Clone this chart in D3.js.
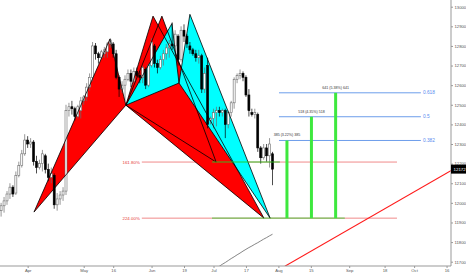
<!DOCTYPE html>
<html>
<head>
<meta charset="utf-8">
<script src="https://cdn.jsdelivr.net/npm/d3@7"></script>
<style>
  body { margin: 0; background: #fff; }
  svg { display: block; font-family: "Liberation Sans", Arial, sans-serif; }
</style>
</head>
<body>
<div id="chart"></div>
<script>
// daily candles, bar index 0 = first visible bar (late March)
const opens  = [11960,11985,12010,12045,12080,12050,12140,12190,12250,12320,12300,12310,12210,12180,12200,12240,12170,12130,12140,11990,12020,12040,12060,12470,12490,12480,12440,12470,12520,12540,12590,12640,12800,12760,12740,12760,12770,12810,12810,12760,12640,12580,12600,12630,12660,12620,12670,12650,12640,12680,12600,12700,12800,12710,12690,12730,12760,12790,12810,12800,12850,12730,12880,12850,12800,12780,12760,12740,12750,12580,12700,12420,12430,12460,12470,12460,12470,12400,12460,12510,12630,12650,12660,12640,12550,12460,12450,12450,12280,12230,12280,12240,12250];
const highs  = [12000,12030,12060,12100,12090,12160,12210,12270,12350,12340,12330,12320,12240,12220,12270,12250,12200,12180,12150,12050,12060,12080,12500,12510,12520,12490,12500,12540,12550,12610,12660,12820,12815,12770,12780,12795,12820,12840,12820,12780,12650,12620,12650,12680,12680,12690,12690,12670,12700,12690,12710,12840,12810,12730,12750,12780,12810,12830,12920,12880,12860,12900,12910,12860,12820,12790,12780,12780,12760,12690,12740,12440,12480,12490,12490,12480,12480,12470,12520,12640,12660,12680,12670,12650,12580,12480,12480,12460,12290,12300,12300,12330,12260];
const lows   = [11930,11950,11990,12020,12030,12040,12130,12180,12240,12280,12280,12190,12150,12170,12160,12150,12110,12100,11970,11960,11990,12010,12040,12440,12450,12420,12430,12430,12500,12520,12570,12620,12730,12710,12730,12740,12740,12790,12740,12630,12540,12560,12520,12620,12590,12610,12640,12610,12610,12580,12590,12690,12690,12660,12680,12700,12730,12740,12780,12760,12700,12720,12820,12790,12760,12750,12720,12710,12560,12560,12380,12400,12380,12390,12440,12440,12330,12380,12440,12480,12610,12630,12620,12540,12440,12440,12430,12260,12200,12220,12210,12180,12090];
const closes = [11985,12010,12045,12080,12045,12140,12190,12250,12320,12300,12310,12210,12180,12200,12250,12170,12130,12150,11990,12020,12040,12060,12470,12490,12480,12440,12490,12520,12540,12590,12640,12800,12760,12740,12770,12780,12810,12830,12760,12640,12580,12600,12630,12660,12620,12670,12650,12640,12690,12600,12700,12820,12710,12690,12730,12760,12790,12810,12800,12860,12730,12880,12850,12810,12780,12760,12740,12750,12580,12660,12400,12430,12460,12470,12460,12470,12400,12460,12510,12630,12650,12660,12640,12550,12470,12450,12460,12280,12230,12280,12240,12300,12172];

// grey moving average, bars 72..92
const maStart = 72;
const maValues = [11657,11667,11677,11687,11696,11706,11716,11725,11735,11744,11754,11763,11772,11780,11789,11797,11806,11815,11823,11832,11840];

// axis ticks
const yTicks = [11700,11800,11900,12000,12100,12200,12300,12400,12500,12600,12700,12800,12900,13000];
const xTickIdx = [9,28,38,51,62,72,83,94,105,118,130,140,151];
const xTickLabels = ["Apr","May","16","Jun","19","Jul","17","Aug","15","Sep","18","Oct","16"];
const lastPrice = 12172;

// harmonic patterns [bar index, price]
const redXAB  = [[11.15,11953],[36.9,12835],[42.3,12498]];
const redBCD  = [[42.3,12498],[51.5,12952],[89.1,11922]];
const red2BCD = [[42.3,12498],[54.5,12952],[72.9,12208]];
const cyanXAB = [[42.3,12498],[57.9,12914],[60.3,12611]];
const cyanBCD = [[60.3,12611],[64.0,12961],[91.2,11922]];

// projection levels
const extLevels = [12208,11922];
const extLabels = ["161.80%","224.00%"];
const extFrom = 47.7, extTo = 134.2, greenFrom = 71.5;
const greenTo = [94.5,116.5];

// fib retracement
const fibValues = [12561,12439,12318];
const fibLabels = ["0.618","0.5","0.382"];
const fibFrom = 94.2, fibTo = 142.3;

// price ranges
const rangeIdx = [96.9,105.2,113.4];
const rangeTop = [12318,12439,12561];
const rangeBase = 11922;
const rangeLabels = ["385 (3.22%) 385","518 (4.35%) 518","641 (5.38%) 641"];

// red trend line
const trendPts = [[96.2,11677],[152.6,12165]];

const W = 466, H = 275, plotR = 451, plotB = 266;

const svg = d3.select("#chart").append("svg")
    .attr("width", W).attr("height", H);
svg.append("rect").attr("width", W).attr("height", H).attr("fill", "#fff");

const x = d3.scaleLinear().domain([0, 100]).range([1.1, 296.1]);
const y = d3.scaleLinear().domain([11700, 13000]).range([261.7, 6.7]);

svg.append("clipPath").attr("id", "plot")
  .append("rect").attr("width", plotR).attr("height", plotB);
const g = svg.append("g").attr("clip-path", "url(#plot)");

// pink projection lines
g.selectAll(".ext").data(extLevels).enter().append("line")
    .attr("x1", x(extFrom)).attr("x2", x(extTo))
    .attr("y1", d => y(d)).attr("y2", d => y(d))
    .attr("stroke", "#f08a8a").attr("stroke-width", 1);
g.selectAll(".extlbl").data(extLevels).enter().append("text")
    .attr("x", x(extFrom) - 2).attr("y", d => y(d) + 1.5)
    .attr("text-anchor", "end").attr("font-size", 4.4)
    .attr("fill", "#e53935")
    .text((d, i) => extLabels[i]);

// pattern fills
const pl = d3.line().x(d => x(d[0])).y(d => y(d[1]));
const shapes = [
  [redXAB, "#ff0000"], [redBCD, "#ff0000"], [red2BCD, "#ff0000"],
  [cyanXAB, "#00ffff"], [cyanBCD, "#00ffff"]
];
g.selectAll(".tri").data(shapes).enter().append("path")
    .attr("d", d => pl(d[0]) + "Z")
    .attr("fill", d => d[1]);

// candles
const idx = d3.range(closes.length);
const bw = 2;
g.selectAll(".wick").data(idx).enter().append("line")
    .attr("x1", i => x(i)).attr("x2", i => x(i))
    .attr("y1", i => y(highs[i])).attr("y2", i => y(lows[i]))
    .attr("stroke", i => closes[i] >= opens[i] ? "#6b6b6b" : "#000")
    .attr("stroke-width", 0.7);
g.selectAll(".body").data(idx).enter().append("rect")
    .attr("x", i => x(i) - bw / 2)
    .attr("width", bw)
    .attr("y", i => y(Math.max(opens[i], closes[i])))
    .attr("height", i => Math.max(0.8, Math.abs(y(opens[i]) - y(closes[i]))))
    .attr("fill", i => closes[i] >= opens[i] ? "#fff" : "#000")
    .attr("stroke", i => closes[i] >= opens[i] ? "#6b6b6b" : "#000")
    .attr("stroke-width", 0.6);

// pattern edges
g.selectAll(".edge").data(shapes).enter().append("path")
    .attr("d", d => pl(d[0]) + "Z")
    .attr("fill", "none").attr("stroke", "#000").attr("stroke-width", 0.8);

// green level overlays
g.selectAll(".glev").data(extLevels).enter().append("line")
    .attr("x1", x(greenFrom)).attr("x2", (d, i) => x(greenTo[i]))
    .attr("y1", d => y(d)).attr("y2", d => y(d))
    .attr("stroke", "#22cc22").attr("stroke-opacity", 0.6).attr("stroke-width", 1.4);

// moving average
g.append("path")
    .datum(maValues)
    .attr("d", d3.line().x((d, i) => x(maStart + i)).y(d => y(d)))
    .attr("fill", "none").attr("stroke", "#666").attr("stroke-width", 0.8);

// trend line
g.append("path").datum(trendPts)
    .attr("d", pl)
    .attr("stroke", "#ff1a1a").attr("stroke-width", 1.1).attr("fill", "none");

// fib retracement
g.selectAll(".fib").data(fibValues).enter().append("line")
    .attr("x1", x(fibFrom)).attr("x2", x(fibTo))
    .attr("y1", d => y(d)).attr("y2", d => y(d))
    .attr("stroke", "#6d9eeb").attr("stroke-width", 1);
g.selectAll(".fiblbl").data(fibValues).enter().append("text")
    .attr("x", x(fibTo) + 2).attr("y", d => y(d) + 1.6)
    .attr("font-size", 4.8).attr("fill", "#5b8def")
    .text((d, i) => fibLabels[i]);

// price ranges
g.selectAll(".rng").data(rangeIdx).enter().append("line")
    .attr("x1", d => x(d)).attr("x2", d => x(d))
    .attr("y1", y(rangeBase)).attr("y2", (d, i) => y(rangeTop[i]))
    .attr("stroke", "#3ee83e").attr("stroke-width", 3);
g.selectAll(".rnglbl").data(rangeIdx).enter().append("text")
    .attr("x", d => x(d)).attr("y", (d, i) => y(rangeTop[i]) - 4)
    .attr("text-anchor", "middle").attr("font-size", 3.6).attr("fill", "#333")
    .text((d, i) => rangeLabels[i]);

// axes
const yAxis = svg.append("g")
    .attr("transform", `translate(${plotR},0)`)
    .call(d3.axisRight(y).tickValues(yTicks).tickSize(2).tickPadding(1.5).tickFormat(d3.format("d")));
const xAxis = svg.append("g")
    .attr("transform", `translate(0,${plotB})`)
    .call(d3.axisBottom(x).tickValues(xTickIdx).tickSize(2).tickPadding(1)
      .tickFormat((d, i) => xTickLabels[i]));
yAxis.select(".domain").attr("d", `M0,0V${plotB}`);
xAxis.select(".domain").attr("d", `M0,0H${plotR}`);
[yAxis, xAxis].forEach(a => {
  a.select(".domain").attr("stroke", "#999");
  a.selectAll(".tick line").attr("stroke", "#999");
  a.selectAll(".tick text").attr("fill", "#555").attr("font-size", 4.2)
    .attr("font-family", "Liberation Sans, Arial, sans-serif");
});

// last price tag
const tag = svg.append("g").attr("transform", `translate(${plotR},${y(lastPrice)})`);
tag.append("rect").attr("x", 0).attr("y", -4.5).attr("width", 15).attr("height", 9).attr("fill", "#000");
tag.append("text").attr("x", 2.5).attr("y", 1.6).attr("font-size", 4.4).attr("fill", "#fff")
    .text(lastPrice);
</script>
</body>
</html>
